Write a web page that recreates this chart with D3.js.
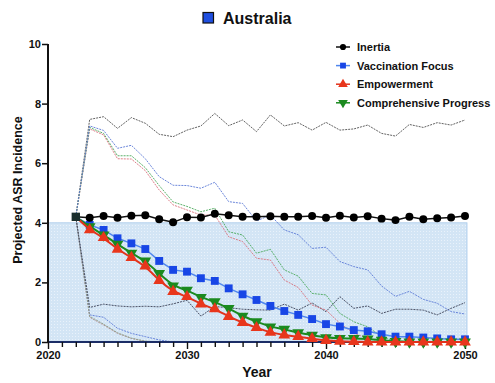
<!DOCTYPE html>
<html>
<head>
<meta charset="utf-8">
<script src="https://cdn.jsdelivr.net/npm/d3@7"></script>
<style>
  html, body { margin: 0; padding: 0; background: #fff; }
  svg { display: block; font-family: "Liberation Sans", Arial, sans-serif; }
</style>
</head>
<body>
<svg id="chart" width="495" height="383"></svg>
<script>
// Projection years and shared starting point
const years = d3.range(2022, 2051);
const xTickLabels = [2020, 2030, 2040, 2050];
const yTickValues = [0, 2, 4, 6, 8, 10];
const targetLevel = 4;

// Central projections (2022 → 2050)
const inertia = [4.2, 4.17, 4.23, 4.17, 4.24, 4.25, 4.12, 4.02, 4.19, 4.18, 4.30, 4.25, 4.20, 4.20, 4.22,
  4.20, 4.20, 4.23, 4.17, 4.24, 4.18, 4.22, 4.14, 4.09, 4.20, 4.12, 4.15, 4.18, 4.23];
const vaccination = [4.2, 3.93, 3.76, 3.48, 3.31, 3.12, 2.72, 2.42, 2.36, 2.14, 2.05, 1.80, 1.60, 1.41, 1.21,
  1.04, 0.91, 0.77, 0.60, 0.52, 0.40, 0.36, 0.26, 0.18, 0.18, 0.15, 0.12, 0.09, 0.09];
const empowerment = [4.2, 3.76, 3.50, 3.11, 2.83, 2.55, 2.06, 1.69, 1.52, 1.27, 1.11, 0.85, 0.65, 0.48, 0.32,
  0.23, 0.18, 0.11, 0.05, 0.02, 0.01, 0, 0, 0, 0, 0, 0, 0, 0];
const comprehensive = [4.2, 3.87, 3.59, 3.28, 2.98, 2.72, 2.30, 1.88, 1.74, 1.50, 1.35, 1.13, 0.87, 0.68, 0.51,
  0.43, 0.31, 0.23, 0.15, 0.12, 0.12, 0.10, 0.06, 0.02, 0, 0, 0, 0, 0];

// Uncertainty bounds
const inertiaUpper = [4.2, 7.47, 7.56, 7.17, 7.53, 7.34, 6.97, 6.89, 7.11, 7.25, 7.67, 7.26, 7.45, 7.06, 7.62,
  7.25, 7.36, 7.11, 7.37, 7.11, 7.15, 7.28, 7.00, 6.91, 7.30, 7.20, 7.36, 7.28, 7.45];
const inertiaLower = [4.2, 1.16, 1.27, 1.21, 1.18, 1.20, 1.18, 1.28, 1.40, 0.87, 1.19, 1.15, 1.10, 1.08, 1.07,
  1.27, 1.07, 1.31, 1.02, 1.52, 1.13, 1.21, 0.96, 1.10, 1.10, 1.07, 0.91, 1.13, 1.32];
const vaccinationUpper = [4.2, 7.25, 7.10, 6.50, 6.60, 6.15, 5.55, 5.26, 5.25, 5.16, 5.36, 4.71, 4.65, 4.06, 4.26,
  3.76, 3.60, 3.14, 3.18, 2.70, 2.53, 2.42, 1.88, 1.53, 1.70, 1.43, 1.30, 1.02, 0.94];
const vaccinationLower = [4.2, 0.91, 0.83, 0.46, 0.29, 0.18, 0.07, 0, 0, 0, 0, 0, 0, 0, 0,
  0, 0, 0, 0, 0, 0, 0, 0, 0, 0, 0, 0, 0, 0];
const empowermentUpper = [4.2, 7.15, 6.95, 6.15, 6.14, 5.75, 5.10, 4.60, 4.43, 4.26, 4.26, 3.53, 3.37, 2.81, 2.75,
  2.08, 1.83, 1.24, 1.07, 0.63, 0.29, 0.12, 0.02, 0, 0, 0, 0, 0, 0];
const empowermentLower = [4.2, 0.83, 0.57, 0.29, 0.12, 0.02, 0, 0, 0, 0, 0, 0, 0, 0, 0,
  0, 0, 0, 0, 0, 0, 0, 0, 0, 0, 0, 0, 0, 0];
const comprehensiveUpper = [4.2, 7.20, 7.00, 6.25, 6.25, 5.85, 5.25, 4.70, 4.55, 4.37, 4.49, 3.70, 3.59, 2.98, 3.11,
  2.42, 2.21, 1.63, 1.58, 0.96, 0.68, 0.51, 0.18, 0.02, 0, 0, 0, 0, 0];
const comprehensiveLower = [4.2, 0.86, 0.60, 0.31, 0.13, 0.03, 0, 0, 0, 0, 0, 0, 0, 0, 0,
  0, 0, 0, 0, 0, 0, 0, 0, 0, 0, 0, 0, 0, 0];

const seriesNames = ["Inertia", "Vaccination Focus", "Empowerment", "Comprehensive Progress"];

const svg = d3.select("#chart");
const x = d3.scaleLinear().domain([2020, 2050]).range([48, 465]);
const y = d3.scaleLinear().domain([0, 10]).range([342, 44]);

// Dotted light-blue texture for the target band
const defs = svg.append("defs");
const pat = defs.append("pattern").attr("id", "dots")
  .attr("width", 3).attr("height", 3).attr("patternUnits", "userSpaceOnUse");
pat.append("rect").attr("width", 3).attr("height", 3).attr("fill", "#d3e5f5");
pat.append("rect").attr("width", 1).attr("height", 1).attr("fill", "#e9f2fb");

svg.append("rect")
  .attr("x", x(2020)).attr("y", y(targetLevel))
  .attr("width", x(2050) - x(2020) + 2).attr("height", y(0) - y(targetLevel))
  .attr("fill", "url(#dots)")
  .attr("stroke", "#a6c8ea").attr("stroke-width", 0.8);

const pts = arr => arr.map((v, i) => [years[i], v]);
const straight = d3.line().x(d => x(d[0])).y(d => y(d[1]));
const smooth = d3.line().x(d => x(d[0])).y(d => y(d[1])).curve(d3.curveBasis);

// Bound lines (thin, dashed)
const bounds = [
  { data: vaccinationLower, color: "#5b79d6" },
  { data: empowermentLower, color: "#b08a8a" },
  { data: comprehensiveLower, color: "#8aa08a" },
  { data: inertiaLower, color: "#3a3f55" },
  { data: inertiaUpper, color: "#505050" },
  { data: empowermentUpper, color: "#d9707c" },
  { data: comprehensiveUpper, color: "#4aa85a" },
  { data: vaccinationUpper, color: "#5b79d6" }
];
svg.append("g").selectAll("path").data(bounds).join("path")
  .attr("d", d => straight(pts(d.data)))
  .attr("fill", "none")
  .attr("stroke", d => d.color)
  .attr("stroke-width", 0.9)
  .attr("stroke-dasharray", "2,1");

// Axes
const xAxis = svg.append("g").attr("transform", `translate(0,${y(0)})`)
  .call(d3.axisBottom(x).tickValues(d3.range(2020, 2051))
    .tickSize(5).tickFormat(d => xTickLabels.includes(d) ? d : ""));
xAxis.select(".domain").attr("stroke", "#1b2d66").attr("stroke-width", 2)
  .attr("d", `M${x(2020)},0H${x(2050) + 2}`);
xAxis.selectAll(".tick line").attr("stroke", "#111").attr("stroke-width", 1.4)
  .attr("y2", d => xTickLabels.includes(d) ? 7 : 5);
xAxis.selectAll(".tick text").attr("y", 9).attr("dy", "0.71em")
  .attr("font-family", "Liberation Sans, Arial, sans-serif")
  .attr("font-size", 11).attr("font-weight", "bold").attr("fill", "#111");

const yAxis = svg.append("g").attr("transform", `translate(${x(2020)},0)`)
  .call(d3.axisLeft(y).tickValues(yTickValues).tickSize(6));
yAxis.select(".domain").attr("stroke", "#111").attr("stroke-width", 2)
  .attr("d", `M0,${y(10)}V${y(0) + 1}`);
yAxis.selectAll(".tick line").attr("stroke", "#111").attr("stroke-width", 1.5);
yAxis.selectAll(".tick text").attr("x", -7)
  .attr("font-family", "Liberation Sans, Arial, sans-serif")
  .attr("font-size", 11).attr("font-weight", "bold").attr("fill", "#111");

// Marker drawing helpers
const sym = (type, size) => d3.symbol().type(type).size(size)();
function markers(arr, type, size, fill, rotate) {
  svg.append("g").selectAll("path").data(pts(arr).slice(1)).join("path")
    .attr("d", sym(type, size))
    .attr("transform", d => `translate(${x(d[0])},${y(d[1])})${rotate ? " rotate(180)" : ""}`)
    .attr("fill", fill);
}

// Vaccination Focus
svg.append("path").attr("d", straight(pts(vaccination)))
  .attr("fill", "none").attr("stroke", "#4f86ee").attr("stroke-width", 1.5);
markers(vaccination, d3.symbolSquare, 62, "#1846e6");

// Comprehensive Progress
svg.append("path").attr("d", smooth(pts(comprehensive)))
  .attr("fill", "none").attr("stroke", "#1b8a1f").attr("stroke-width", 2);
markers(comprehensive, d3.symbolTriangle, 60, "#1b8a1f", true);

// Empowerment
svg.append("path").attr("d", smooth(pts(empowerment)))
  .attr("fill", "none").attr("stroke", "#e2321c").attr("stroke-width", 2);
markers(empowerment, d3.symbolTriangle, 60, "#e8361c");

// Inertia
svg.append("path").attr("d", straight(pts(inertia)))
  .attr("fill", "none").attr("stroke", "#111").attr("stroke-width", 1.5);
markers(inertia, d3.symbolCircle, 50, "#000");

// Shared 2022 starting point
svg.append("path").attr("d", sym(d3.symbolSquare, 70))
  .attr("transform", `translate(${x(years[0])},${y(inertia[0])})`)
  .attr("fill", "#1a2e2c");

// Legend
const legendItems = [
  { name: seriesNames[0], line: "#111", fill: "#000", type: d3.symbolCircle, size: 30, rot: false },
  { name: seriesNames[1], line: "#4f86ee", fill: "#1846e6", type: d3.symbolSquare, size: 34, rot: false },
  { name: seriesNames[2], line: "#e2321c", fill: "#e8361c", type: d3.symbolTriangle, size: 40, rot: false },
  { name: seriesNames[3], line: "#1b8a1f", fill: "#1b8a1f", type: d3.symbolTriangle, size: 40, rot: true }
];
const lg = svg.append("g").selectAll("g").data(legendItems).join("g")
  .attr("transform", (d, i) => `translate(0,${47 + i * 18.6})`);
lg.append("line").attr("x1", 336).attr("x2", 350).attr("stroke", d => d.line).attr("stroke-width", 1.5);
lg.append("path").attr("d", d => sym(d.type, d.size))
  .attr("transform", d => `translate(343,0)${d.rot ? " rotate(180)" : ""}`)
  .attr("fill", d => d.fill);
lg.append("text").attr("x", 357).attr("y", 4)
  .attr("font-size", 11).attr("font-weight", "bold").attr("fill", "#111")
  .text(d => d.name);

// Title with country swatch
svg.append("rect").attr("x", 203).attr("y", 12.5).attr("width", 10.5).attr("height", 10.5)
  .attr("fill", "#1f4fe0").attr("stroke", "#111").attr("stroke-width", 1.2);
svg.append("text").attr("x", 223).attr("y", 24)
  .attr("font-size", 16).attr("font-weight", "bold").attr("fill", "#111")
  .text("Australia");

// Axis titles
svg.append("text").attr("x", 257).attr("y", 377).attr("text-anchor", "middle")
  .attr("font-size", 14).attr("font-weight", "bold").attr("fill", "#111")
  .text("Year");
svg.append("text").attr("transform", "translate(22,190) rotate(-90)").attr("text-anchor", "middle")
  .attr("font-size", 12.5).attr("font-weight", "bold").attr("fill", "#111")
  .text("Projected ASR Incidence");
</script>
</body>
</html>
